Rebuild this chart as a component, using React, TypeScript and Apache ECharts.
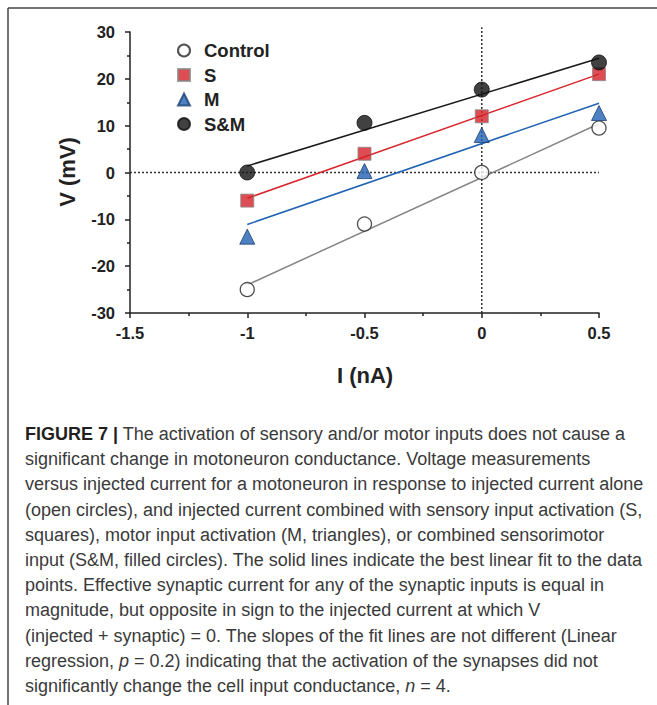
import React, { useEffect, useRef } from "react";
import * as echarts from "echarts";

// ---- data ----
const currents = [-1, -0.5, 0, 0.5]; // I (nA)
const controlV = [-25, -11, 0, 9.5];
const sV = [-6, 4, 12, 21];
const mV = [-13.7, 0.3, 8, 12.7];
const smV = [0, 10.6, 17.7, 23.5];

const fitI = [-1, 0.5];
const controlFit = [-24, 10.4];
const sFit = [-5.5, 21];
const mFit = [-11.1, 14.8];
const smFit = [1.4, 24.4];

const zeroLineI = [-1.5, 0.5];
const zeroLineV = [-30, 31];

const seriesNames = ["Control", "S", "M", "S&M"];

const captionLines = [
  "{b|FIGURE 7 |} The activation of sensory and/or motor inputs does not cause a",
  "significant change in motoneuron conductance. Voltage measurements",
  "versus injected current for a motoneuron in response to injected current alone",
  "(open circles), and injected current combined with sensory input activation (S,",
  "squares), motor input activation (M, triangles), or combined sensorimotor",
  "input (S&M, filled circles). The solid lines indicate the best linear fit to the data",
  "points. Effective synaptic current for any of the synaptic inputs is equal in",
  "magnitude, but opposite in sign to the injected current at which V",
  "(injected + synaptic) = 0. The slopes of the fit lines are not different (Linear",
  "regression, {i|p} = 0.2) indicating that the activation of the synapses did not",
  "significantly change the cell input conductance, {i|n} = 4.",
];

const pairs = (xs: number[], ys: number[]) => xs.map((x, i) => [x, ys[i]]);

const FONT = '"Liberation Sans", Arial, Helvetica, sans-serif';

export default function App() {
  const ref = useRef<HTMLDivElement>(null);
  useEffect(() => {
    const chart = echarts.init(ref.current!, null, { renderer: "svg" });
    const axisCommon = {
      axisLine: { show: true, onZero: false, lineStyle: { color: "#222", width: 1.5 } },
      axisTick: { show: true, inside: false, length: 5, lineStyle: { color: "#222", width: 1.5 } },
      minorTick: { show: true, splitNumber: 2, length: 3, lineStyle: { color: "#222", width: 1.5 } },
      splitLine: { show: false },
      minorSplitLine: { show: false },
    };
    const fitLine = (ys: number[], color: string) => ({
      type: "line",
      data: pairs(fitI, ys),
      symbol: "none",
      lineStyle: { color, width: 1.5 },
      z: 3,
      silent: true,
    });
    const option: any = {
      animation: false,
      backgroundColor: "#fff",
      textStyle: { fontFamily: FONT },
      grid: { left: 130, right: 58, top: 32, bottom: 392 },
      xAxis: {
        type: "value",
        min: -1.5,
        max: 0.5,
        interval: 0.5,
        ...axisCommon,
        axisLabel: { margin: 11, color: "#222", fontWeight: "bold", fontSize: 16.5, fontFamily: FONT },
      },
      yAxis: {
        type: "value",
        min: -30,
        max: 30,
        interval: 10,
        ...axisCommon,
        axisLabel: { margin: 15, color: "#222", fontWeight: "bold", fontSize: 16.5, fontFamily: FONT },
      },
      legend: {
        data: seriesNames,
        orient: "vertical",
        left: 177,
        top: 41,
        padding: 0,
        itemWidth: 12,
        itemHeight: 12,
        itemGap: 5.5,
        textStyle: { fontSize: 18.5, fontWeight: "bold", color: "#222", fontFamily: FONT, lineHeight: 18, padding: [0, 0, 0, 9] },
      },
      series: [
        {
          type: "line",
          data: pairs(zeroLineI, [0, 0]),
          symbol: "none",
          lineStyle: { color: "#333", width: 1.5, type: [2, 2] },
          z: 2,
          silent: true,
        },
        {
          type: "line",
          data: pairs([0, 0], zeroLineV),
          symbol: "none",
          clip: false,
          lineStyle: { color: "#333", width: 1.5, type: [2, 2] },
          z: 2,
          silent: true,
        },
        fitLine(controlFit, "#858585"),
        fitLine(sFit, "#d7252b"),
        fitLine(mFit, "#2163b3"),
        fitLine(smFit, "#1a1a1a"),
        {
          name: "Control",
          type: "scatter",
          data: pairs(currents, controlV),
          symbol: "circle",
          symbolSize: 14,
          itemStyle: { color: "#fff", borderColor: "#222", borderWidth: 1.3 },
          z: 5,
        },
        {
          name: "S",
          type: "scatter",
          data: pairs(currents, sV),
          symbol: "rect",
          symbolSize: 13,
          itemStyle: { color: "#d42028", borderColor: "#888", borderWidth: 1 },
          z: 5,
        },
        {
          name: "M",
          type: "scatter",
          data: pairs(currents, mV),
          symbol: "triangle",
          symbolSize: 15,
          itemStyle: { color: "#2161b1", borderColor: "#1b3f73", borderWidth: 1 },
          z: 5,
        },
        {
          name: "S&M",
          type: "scatter",
          data: pairs(currents, smV),
          symbol: "circle",
          symbolSize: 15,
          itemStyle: { color: "#111", borderColor: "#111", borderWidth: 1 },
          z: 5,
        },
      ],
      graphic: [
        { type: "line", shape: { x1: 8, y1: 8, x2: 657, y2: 8 }, style: { stroke: "#444", lineWidth: 1.5 } },
        { type: "line", shape: { x1: 8, y1: 8, x2: 8, y2: 705 }, style: { stroke: "#444", lineWidth: 1.5 } },
        {
          type: "text",
          x: 365,
          y: 375,
          style: { text: "I (nA)", fontSize: 22, fontWeight: "bold", fontFamily: FONT, fill: "#222", align: "center", verticalAlign: "middle" },
        },
        {
          type: "text",
          x: 67,
          y: 172,
          rotation: Math.PI / 2,
          style: { text: "V (mV)", fontSize: 22, fontWeight: "bold", fontFamily: FONT, fill: "#222", align: "center", verticalAlign: "middle" },
        },
        ...captionLines.map((t, i) => ({
          type: "text",
          x: 25,
          y: 434 + i * 25.2,
          style: {
            text: t,
            fontSize: 18,
            fontFamily: FONT,
            fill: "#3a3a3a",
            align: "left",
            verticalAlign: "middle",
            rich: {
              b: { fontSize: 18, fontFamily: FONT, fontWeight: "bold", fill: "#231f20" },
              i: { fontSize: 18, fontFamily: FONT, fontStyle: "italic", fill: "#3a3a3a" },
            },
          },
        })),
      ],
    };
    chart.setOption(option);
    return () => chart.dispose();
  }, []);
  return (
    <div
      ref={ref}
      style={{ position: "absolute", left: 0, top: 0, width: 657, height: 705, background: "#fff" }}
    />
  );
}
